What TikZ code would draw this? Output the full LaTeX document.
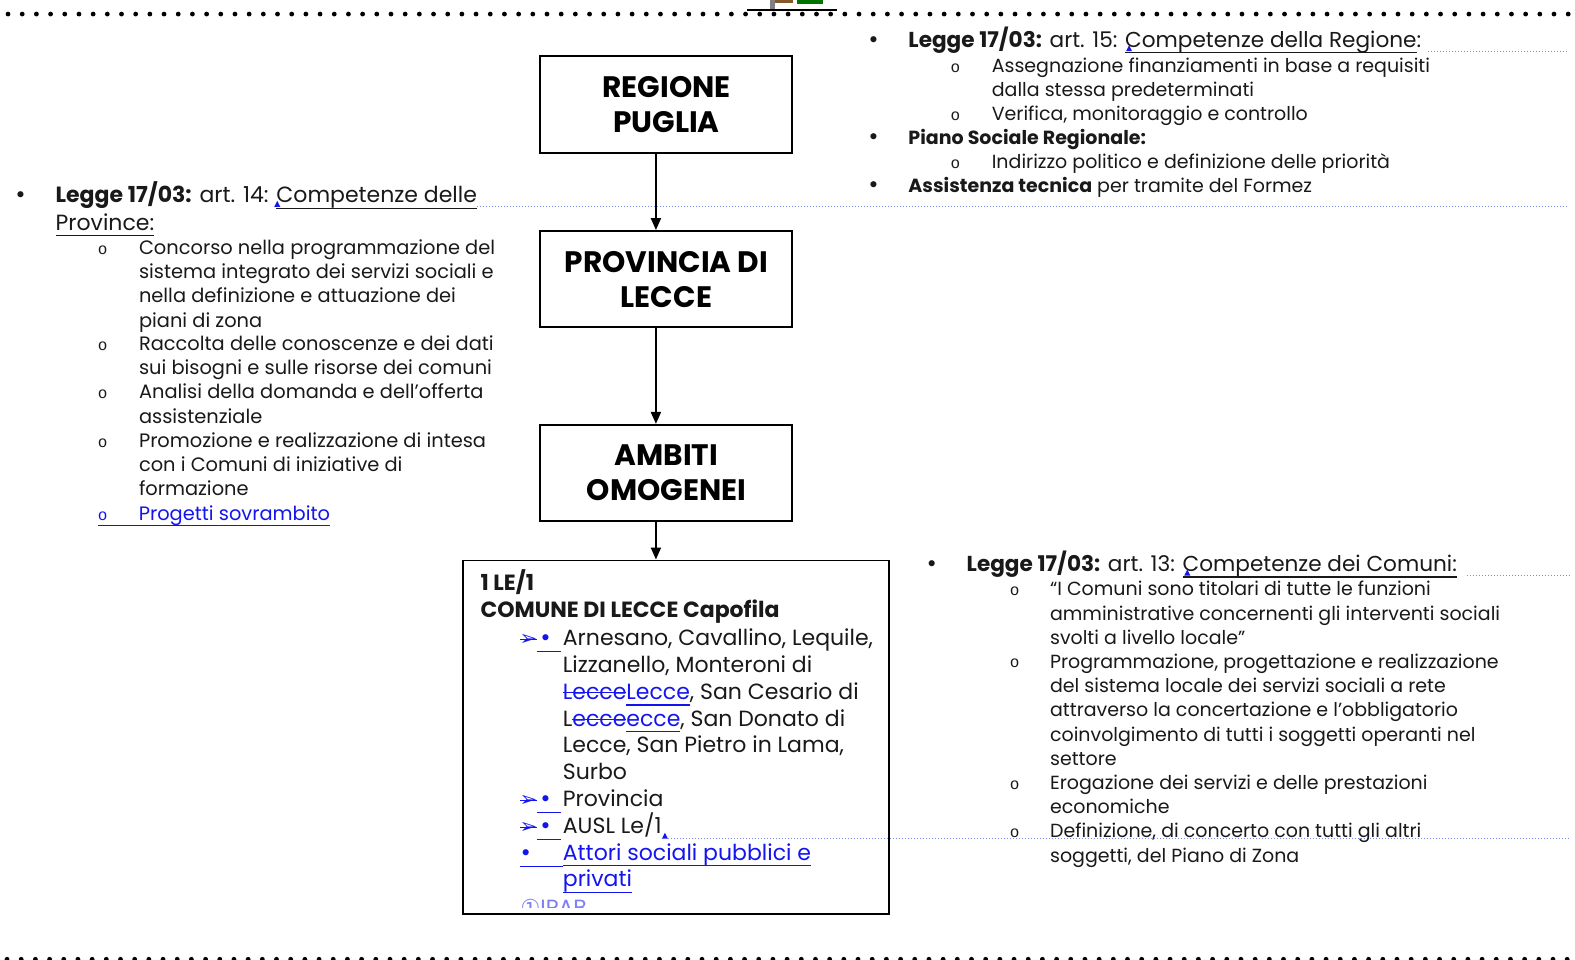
\documentclass[tikz,border=0pt]{standalone}
\usepackage{fontspec}
\setmainfont{Poppins}
\newfontfamily\symfont{DejaVu Sans}
\newfontfamily\monofont{Liberation Mono}
\usetikzlibrary{arrows.meta,positioning}
\definecolor{ink}{RGB}{25,25,25}
\definecolor{chgblue}{RGB}{20,20,240}
\definecolor{balloonblue}{RGB}{120,140,235}
\newcommand{\uln}[1]{\leavevmode\setbox0\hbox{#1}\rlap{\rule[-0.28em]{\wd0}{0.6pt}}\box0}
\newcommand{\strk}[1]{\leavevmode\setbox0\hbox{#1}\rlap{\rule[0.27em]{\wd0}{0.5pt}}\box0}
\newcommand{\bigbul}{{\symfont\fontsize{10.5}{12}\selectfont •}}
\newcommand{\chgmark}{{\color{chgblue}\strk{\symfont\fontsize{10.5}{10.5}\selectfont ➢}\uln{\makebox[12pt][l]{\hspace{1pt}\bigbul}}}}

\begin{document}
\begin{tikzpicture}[x=0.5022pt, y=-0.5022pt,
		txt/.style={anchor=base west, inner sep=0pt, align=left, text=ink, font=\fontsize{9.7}{12.1}\selectfont},
		hdr/.style={txt, font=\fontsize{11}{13.6}\selectfont},
		ntxt/.style={txt, font=\fontsize{9.5}{12.1}\selectfont},
		nhdr/.style={txt, font=\fontsize{10.8}{13.6}\selectfont},
		dot/.style={txt},
		circ/.style={txt, font=\monofont\fontsize{8}{12}\selectfont},
		big/.style={txt, font=\fontsize{11}{13.4}\selectfont},
		unit/.style={draw, line width=1pt, minimum width=126pt, minimum height=48.2pt, inner sep=2pt, align=center, font=\bfseries\fontsize{14.8}{17.6}\selectfont},
		flow/.style={-{Triangle[length=6pt,width=5pt]}, line width=1pt},
		balloon/.style={draw=balloonblue, densely dotted, line width=0.5pt},
		node distance=38.2pt]
	\useasboundingbox (0,0) rectangle (1568,955);
	\fill[white] (0,0) rectangle (1568,955);

	\foreach \i in {0,...,110} \fill (8+14.12*\i,14) circle [radius=1.2pt];
	\foreach \i in {0,...,110} \fill (7+14.12*\i,955) circle [radius=1.2pt];
	\fill[gray] (767,0) rectangle (772,10);
	\fill[brown!70!black] (772,0) rectangle (789,3);
	\fill[green!45!black] (793,0) rectangle (819,4);
	\draw[line width=0.8pt] (744,10) -- (833,10);

	\draw[balloon] (475,206) -- (1562,206);
	\draw[balloon] (1422,51) -- (1562,51);
	\draw[balloon] (1460,573) -- (1562,573);
	\draw[balloon] (665,835) -- (1562,835);
	\foreach \x/\y in {276/206,1124/51,1182/573,662/835}
		\fill[chgblue] (\x-3,\y) -- (\x+3,\y) -- (\x,\y-6) -- cycle;

	\node (regione) [unit] at (663.5,104) {REGIONE\\PUGLIA};
	\node (provincia) [unit, below=38.2pt of regione] {PROVINCIA DI\\LECCE};
	\node (ambiti) [unit, below=47.7pt of provincia] {AMBITI\\OMOGENEI};
	\node (comune) [draw, line width=0.9pt, minimum width=213pt, minimum height=176.8pt, below=18.6pt of ambiti, xshift=4.77pt] {};

	\draw[flow] ([xshift=-5.27pt]regione.south) -- ([xshift=-5.27pt]provincia.north);
	\draw[flow] ([xshift=-5.27pt]provincia.south) -- ([xshift=-5.27pt]ambiti.north);
	\draw[flow] ([xshift=-5.27pt]ambiti.south) -- ([xshift=-5.27pt]ambiti.south |- comune.north);

	\node (rb1) [dot] at (863,47) {\bigbul};
	\node (rhead) [nhdr] at (904,47) {\textbf{Legge 17/03:} art. 15: \uln{Competenze della Regione}:};
	\node (ro1) [circ] at (946,72) {o};
	\node (rt1) [ntxt] at (987,96.2) {Assegnazione finanziamenti in base a requisiti\\dalla stessa predeterminati};
	\node (ro2) [circ] at (946,120) {o};
	\node (rt2) [ntxt] at (987,120) {Verifica, monitoraggio e controllo};
	\node (rb2) [dot] at (863,144) {\bigbul};
	\node (rt3) [ntxt] at (904,144) {\textbf{Piano Sociale Regionale:}};
	\node (ro3) [circ] at (946,168) {o};
	\node (rt4) [ntxt] at (987,168) {Indirizzo politico e definizione delle priorità};
	\node (rb3) [dot] at (863,192) {\bigbul};
	\node (rt5) [ntxt] at (904,192) {\textbf{Assistenza tecnica} per tramite del Formez};

	\node (lb1) [dot] at (14,202) {\bigbul};
	\node (lhead) [hdr] at (55,229) {\textbf{Legge 17/03:} art. 14: \uln{Competenze delle}\\\uln{Province:}};
	\foreach \y in {253,349,397,445} \node (lo\y) [circ] at (97,\y) {o};
	\node (lt1) [txt] at (138,325.6) {Concorso nella programmazione del\\sistema integrato dei servizi sociali e\\nella definizione e attuazione dei\\piani di zona};
	\node (lt2) [txt] at (138,373.2) {Raccolta delle conoscenze e dei dati\\sui bisogni e sulle risorse dei comuni};
	\node (lt3) [txt] at (138,421.2) {Analisi della domanda e dell’offerta\\assistenziale};
	\node (lt4) [txt] at (138,493.4) {Promozione e realizzazione di intesa\\con i Comuni di iniziative di\\formazione};
	\node (lt5) [txt, text=chgblue] at (97,518) {\uln{\makebox[20.5pt][l]{\monofont\fontsize{8}{8}\selectfont o}Progetti sovrambito}};

	\node (chead1) [big] at (478,615) {\textbf{1 LE/1}\\\textbf{COMUNE DI LECCE Capofila}};
	\node (m1) [big] at (517,643) {\chgmark};
	\node (m7) [big] at (517,803) {\chgmark};
	\node (m8) [big] at (517,830) {\chgmark};
	\node (m9) [big] at (517,856.7) {{\color{chgblue}\uln{\makebox[21.5pt][l]{\bigbul}}}};
	\node (lista) [big] at (560,883) {Arnesano, Cavallino, Lequile,\\Lizzanello, Monteroni di\\{\color{chgblue}\strk{Lecce}\uln{Lecce}}, San Cesario di\\L{\color{chgblue}\strk{ecce}\uln{ecce}}, San Donato di\\Lecce, San Pietro in Lama,\\Surbo\\Provincia\\AUSL Le/1\\{\color{chgblue}\uln{Attori sociali pubblici e}}\\{\color{chgblue}\uln{privati}}};
	\begin{scope}
		\clip (462,880) rectangle (884,903);
		\node (ipab) [big, text=chgblue!55] at (518,911) {{\symfont ①}IPAB};
	\end{scope}

	\node (cb1) [dot] at (921,569) {\bigbul};
	\node (chead) [nhdr] at (962,569) {\textbf{Legge 17/03:} art. 13: \uln{Competenze dei Comuni:}};
	\foreach \y in {593,665,786,834} \node (co\y) [circ] at (1005,\y) {o};
	\node (ct1) [ntxt] at (1045,641.4) {“I Comuni sono titolari di tutte le funzioni\\amministrative concernenti gli interventi sociali\\svolti a livello locale”};
	\node (ct2) [ntxt] at (1045,761.8) {Programmazione, progettazione e realizzazione\\del sistema locale dei servizi sociali a rete\\attraverso la concertazione e l’obbligatorio\\coinvolgimento di tutti i soggetti operanti nel\\settore};
	\node (ct3) [ntxt] at (1045,810.2) {Erogazione dei servizi e delle prestazioni\\economiche};
	\node (ct4) [ntxt] at (1045,858.2) {Definizione, di concerto con tutti gli altri\\soggetti, del Piano di Zona};
\end{tikzpicture}
\end{document}
